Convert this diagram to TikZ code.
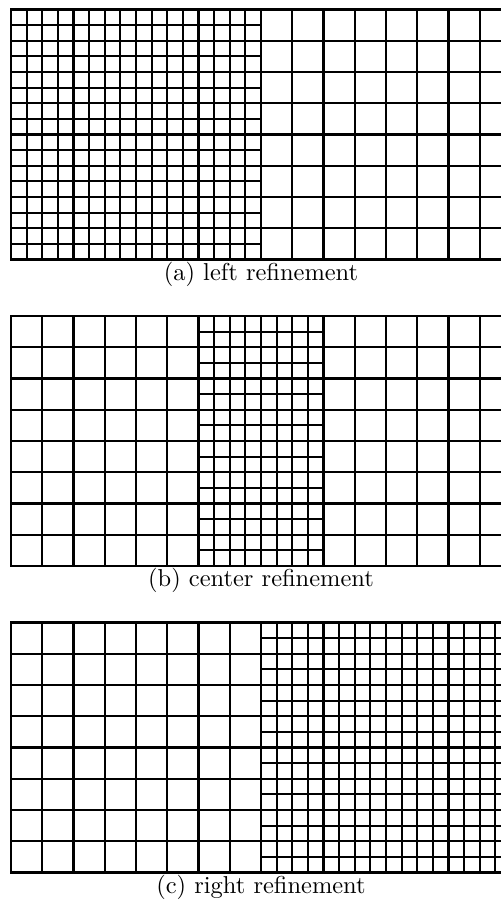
\documentclass[tikz,border=0pt]{standalone}
\newcommand\meshblock[5]{%
  \foreach \i in {0,...,#2} \draw[gridline] ({#1+\i*#5},#3) -- ({#1+\i*#5},{#3+#4*#5});
  \foreach \j in {0,...,#4} \draw[gridline] (#1,{#3+\j*#5}) -- ({#1+#2*#5},{#3+\j*#5});
}
\begin{document}
\begin{tikzpicture}[x=0.409pt,y=-0.409pt,
  gridline/.style={line width=0.9pt,black,line cap=rect},
  captext/.style={anchor=base,inner sep=0pt,font=\normalsize}]
\useasboundingbox (0,0) rectangle (501,901);
\clip (0,0) rectangle (501,901);
% (a) left refinement
\meshblock{11}{16}{9.5}{16}{15.625}
\meshblock{261}{8}{9.5}{8}{31.25}
\node[captext] (capa) at (261,280) {(a) left refinement};
% (b) center refinement
\meshblock{11}{6}{316}{8}{31.25}
\meshblock{198.5}{8}{316}{16}{15.625}
\meshblock{323.5}{6}{316}{8}{31.25}
\node[captext] (capb) at (261,586.5) {(b) center refinement};
% (c) right refinement
\meshblock{11}{8}{622.5}{8}{31.25}
\meshblock{261}{16}{622.5}{16}{15.625}
\node[captext] (capc) at (261,893) {(c) right refinement};
\end{tikzpicture}
\end{document}
